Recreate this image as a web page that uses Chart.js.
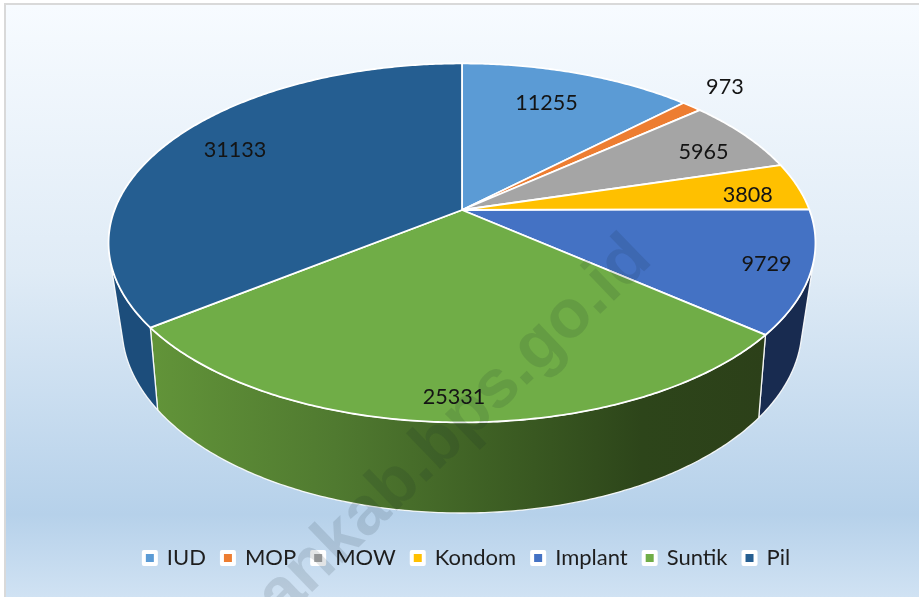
<!DOCTYPE html>
<html><head><meta charset="utf-8">
<script src="https://cdn.jsdelivr.net/npm/chart.js@4"></script>
<style>html,body{margin:0;padding:0;background:#fff}#wrap{width:919px;height:597px;position:relative}</style>
</head><body><div id="wrap"><canvas id="c" width="919" height="597"></canvas></div>
<script>
const categories = ['IUD','MOP','MOW','Kondom','Implant','Suntik','Pil'];
const values = [11255,973,5965,3808,9729,25331,31133];
const sliceColors = ['#5B9BD5','#ED7D31','#A5A5A5','#FFC000','#4472C4','#70AD47','#255E91'];
const labelRadius = [0.75,1.19,0.82,0.84,0.88,0.90,0.79];
const labelTurnDeg = [-1.5,-1,2.4,2,0,0,1.5];
const watermark = 'hankab.bps.go.id';
const FONT = 'Lato, Carlito, sans-serif';

function projector(cx, cy, rx, ry, shift, k){
  const a = rx*Math.sqrt(1-(shift/ry)*(shift/ry));
  return (theta, r=1)=>{
    const x=r*Math.sin(theta), y=-r*Math.cos(theta), d=1-k*y;
    return [cx+a*x/d, cy+(ry*y-shift)/d];
  };
}
const topP = projector(462,243,353.5,179.5,33,33/180);
const botP = projector(462,327,340,186,40,40/186);
const FRONT_A = 107*Math.PI/180, FRONT_B = 253*Math.PI/180;
const sampled=(a,b)=>{const n=Math.max(2,Math.ceil(Math.abs(b-a)/0.01));const o=[];for(let i=0;i<=n;i++)o.push(a+(b-a)*i/n);return o;};

const pie3d = {
  id:'pie3d',
  beforeDraw(chart){
    const {ctx,width,height}=chart;
    ctx.save();
    ctx.fillStyle='#fff';ctx.fillRect(0,0,width,height);
    ctx.fillStyle='#d9d9d9';ctx.fillRect(4,3,width-4,height-3);
    const g=ctx.createLinearGradient(0,6,0,height);
    g.addColorStop(0,'#f7fbff');g.addColorStop(0.45,'#dfebf6');g.addColorStop(0.86,'#b6d1ea');g.addColorStop(1,'#d0e2f3');
    ctx.fillStyle=g;ctx.fillRect(6,5,width-6,height-5);
    ctx.restore();
  },
  beforeDatasetDraw(chart,args){
    const {ctx}=chart;
    const arcs=chart.getDatasetMeta(args.index).data;
    const angs=arcs.map(e=>{const p=e.getProps(['startAngle','endAngle'],true);return [p.startAngle+Math.PI/2,p.endAngle+Math.PI/2];});
    ctx.save();
    ctx.lineJoin='round';
    const wallFill=i=>{
      if(i===5){const g=ctx.createLinearGradient(150,0,765,0);
        g.addColorStop(0,'#629439');g.addColorStop(0.3,'#507a30');g.addColorStop(0.55,'#3e6024');g.addColorStop(0.8,'#2d451a');g.addColorStop(1,'#2c4019');return g;}
      if(i===6)return '#1c4d7b';
      return '#182b50';
    };
    angs.forEach(([s,e],i)=>{
      const a=Math.max(s,FRONT_A),b=Math.min(e,FRONT_B);
      if(b<=a)return;
      ctx.beginPath();
      sampled(a,b).forEach((t,j)=>{const p=topP(t);j?ctx.lineTo(p[0],p[1]):ctx.moveTo(p[0],p[1]);});
      sampled(b,a).forEach(t=>{const p=botP(t);ctx.lineTo(p[0],p[1]);});
      ctx.closePath();
      ctx.fillStyle=wallFill(i);ctx.fill();
      ctx.strokeStyle='rgba(255,255,255,0.9)';ctx.lineWidth=1.3;ctx.stroke();
    });
    const apex=topP(0,0);
    angs.forEach(([s,e],i)=>{
      ctx.beginPath();ctx.moveTo(apex[0],apex[1]);
      sampled(s,e).forEach(t=>{const p=topP(t);ctx.lineTo(p[0],p[1]);});
      ctx.closePath();
      ctx.fillStyle=sliceColors[i];ctx.fill();
      ctx.strokeStyle='#fff';ctx.lineWidth=1.8;ctx.stroke();
    });
    ctx.font='21.6px '+FONT;ctx.textAlign='center';ctx.textBaseline='middle';ctx.fillStyle='#141414';
    angs.forEach(([s,e],i)=>{
      const m=(s+e)/2+labelTurnDeg[i]*Math.PI/180;
      const p=topP(m,labelRadius[i]);
      ctx.fillText(String(values[i]),p[0],p[1]);
    });
    ctx.restore();
    return false;
  },
  afterDraw(chart){
    const {ctx}=chart;
    ctx.save();
    ctx.translate(654,262);ctx.rotate(-44*Math.PI/180);
    ctx.font='bold 68px "Liberation Sans", sans-serif';ctx.textAlign='right';ctx.textBaseline='alphabetic';
    ctx.fillStyle='rgba(20,30,40,0.12)';
    ctx.fillText(watermark,0,0);
    ctx.restore();
  }
};

new Chart(document.getElementById('c'),{
  type:'pie',
  data:{labels:categories,datasets:[{data:values,backgroundColor:sliceColors,borderColor:'#fff'}]},
  options:{
    responsive:false,animation:false,
    layout:{padding:{bottom:18,left:15}},
    plugins:{
      tooltip:{enabled:false},
      title:{display:false},
      legend:{position:'bottom',
        labels:{boxWidth:12,boxHeight:12,padding:16,color:'#1e1e1e',font:{family:FONT,size:22},
          generateLabels(chart){
            return chart.data.labels.map((t,i)=>({text:t,fillStyle:sliceColors[i],strokeStyle:'#fff',lineWidth:4,lineJoin:'round',hidden:false,index:i,fontColor:'#1e1e1e'}));
          }}}
    }
  },
  plugins:[pie3d]
});
</script></body></html>
